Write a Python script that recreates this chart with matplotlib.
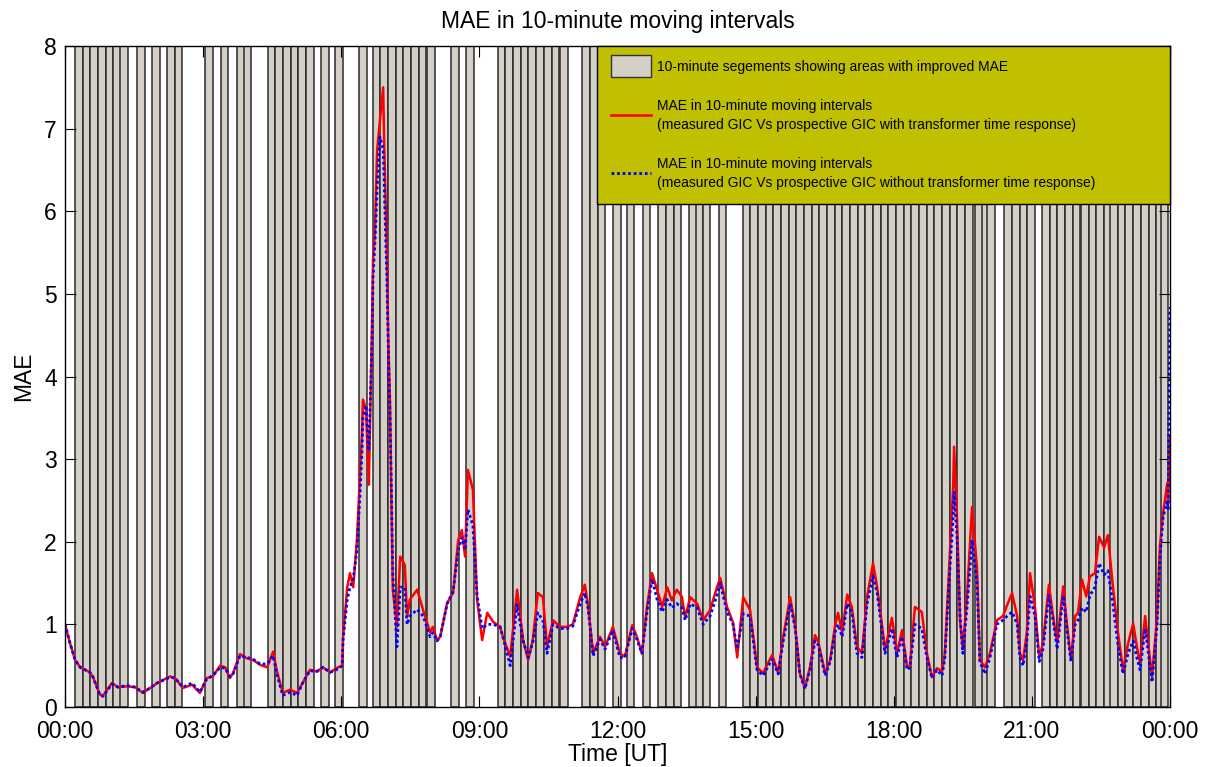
import matplotlib
matplotlib.use("Agg")
import matplotlib.pyplot as plt
from matplotlib.patches import Patch, Rectangle
from matplotlib.lines import Line2D
from matplotlib.legend_handler import HandlerPatch
import numpy as np

plt.rcParams['font.family'] = ['Liberation Sans', 'DejaVu Sans']

# Start minute of each 10-minute segment with improved MAE
segment_start_min = [
    13, 23, 33, 43, 53, 63, 72, 94, 114, 133, 143, 183, 203, 224, 233,
    264, 274, 284, 294, 304, 314, 334, 352, 383,
    401, 411, 421, 431, 441, 451, 461, 472, 503, 523,
    564, 574, 584, 594, 604, 614, 624, 634, 645, 674, 684, 694,
    714, 732, 753, 773, 783, 793, 813, 822, 831, 852,
    883, 893, 903, 913, 923, 933, 943, 953, 963, 973, 983, 993, 1003, 1013,
    1023, 1033, 1043, 1053, 1063, 1073, 1083, 1093, 1103, 1113, 1123, 1133,
    1143, 1153, 1163, 1173, 1186, 1195, 1202,
    1224, 1234, 1244, 1254,
    1273, 1283, 1293, 1303, 1313, 1324, 1334, 1344, 1354, 1362, 1372, 1382,
    1392, 1402, 1412, 1422, 1428,
]
segment_len_min = 10

# Time axis of the MAE curves (hours UT)
time_h = [
    0.00, 0.11, 0.22, 0.33, 0.54, 0.61, 0.76, 0.83, 1.02, 1.15, 1.35, 1.52, 1.69, 1.85,
    2.00, 2.28, 2.39, 2.56, 2.76, 2.93, 3.08, 3.21, 3.37, 3.48, 3.58, 3.65, 3.80, 3.95,
    4.08, 4.24, 4.39, 4.52, 4.60, 4.73, 4.89, 5.04, 5.17, 5.32, 5.47, 5.60, 5.76, 5.93,
    6.02, 6.04, 6.13, 6.19, 6.26, 6.34, 6.41, 6.45, 6.47, 6.54, 6.58, 6.60, 6.67, 6.69,
    6.73, 6.78, 6.84, 6.91, 6.93, 6.95, 6.99, 7.02, 7.06, 7.08, 7.12, 7.21, 7.28, 7.38,
    7.43, 7.49, 7.65, 7.78, 7.93, 7.99, 8.08, 8.15, 8.30, 8.43, 8.54, 8.62, 8.69, 8.75,
    8.86, 8.95, 9.06, 9.17, 9.30, 9.45, 9.51, 9.67, 9.82, 9.95, 10.06, 10.16, 10.27,
    10.38, 10.47, 10.60, 10.75, 10.90, 11.03, 11.19, 11.29, 11.36, 11.47, 11.62, 11.73,
    11.90, 12.05, 12.16, 12.32, 12.42, 12.53, 12.64, 12.75, 12.86, 12.97, 13.08, 13.18,
    13.29, 13.40, 13.47, 13.58, 13.73, 13.86, 14.01, 14.16, 14.23, 14.38, 14.51, 14.60,
    14.73, 14.88, 15.03, 15.16, 15.36, 15.49, 15.60, 15.75, 15.86, 15.96, 16.07, 16.18,
    16.29, 16.36, 16.51, 16.62, 16.72, 16.79, 16.88, 16.99, 17.09, 17.20, 17.31, 17.42,
    17.55, 17.64, 17.75, 17.81, 17.96, 18.07, 18.18, 18.29, 18.35, 18.46, 18.61, 18.72,
    18.83, 18.94, 19.05, 19.11, 19.20, 19.29, 19.31, 19.37, 19.44, 19.50, 19.59, 19.70,
    19.81, 19.87, 19.98, 20.09, 20.24, 20.37, 20.46, 20.57, 20.68, 20.74, 20.81, 20.89,
    20.96, 21.07, 21.16, 21.24, 21.37, 21.46, 21.55, 21.68, 21.76, 21.85, 21.94, 22.00,
    22.09, 22.18, 22.26, 22.37, 22.46, 22.57, 22.65, 22.76, 22.87, 22.98, 23.09, 23.20,
    23.28, 23.35, 23.46, 23.52, 23.61, 23.72, 23.78, 23.85, 23.94, 23.96, 24.00,
]

# MAE: measured GIC vs prospective GIC with transformer time response
mae_with_tr = [
    1.00, 0.77, 0.57, 0.48, 0.42, 0.36, 0.15, 0.14, 0.29, 0.24, 0.25, 0.24, 0.17, 0.23,
    0.29, 0.37, 0.35, 0.23, 0.27, 0.17, 0.35, 0.37, 0.50, 0.48, 0.35, 0.41, 0.64, 0.59,
    0.57, 0.51, 0.48, 0.67, 0.44, 0.17, 0.21, 0.17, 0.30, 0.45, 0.43, 0.48, 0.42, 0.48,
    0.50, 0.85, 1.45, 1.62, 1.45, 2.02, 2.83, 3.30, 3.72, 3.60, 3.00, 2.69, 4.69, 5.41,
    5.74, 6.74, 7.10, 7.50, 6.90, 6.40, 5.53, 4.48, 3.68, 2.83, 1.42, 0.97, 1.82, 1.72,
    1.09, 1.30, 1.42, 1.17, 0.90, 0.97, 0.81, 0.85, 1.26, 1.38, 2.02, 2.14, 1.82, 2.87,
    2.63, 1.30, 0.81, 1.14, 1.03, 0.97, 0.85, 0.61, 1.42, 0.81, 0.57, 0.81, 1.38,
    1.33, 0.73, 1.05, 0.97, 0.97, 1.00, 1.33, 1.48, 1.23, 0.65, 0.85, 0.73,
    0.97, 0.65, 0.61, 0.99, 0.85, 0.65, 1.21, 1.62, 1.42, 1.21, 1.45, 1.29,
    1.42, 1.33, 1.08, 1.33, 1.25, 1.05, 1.17, 1.45, 1.56, 1.21, 1.02, 0.60,
    1.33, 1.17, 0.48, 0.41, 0.63, 0.41, 0.85, 1.33, 0.97, 0.41, 0.23, 0.48,
    0.87, 0.79, 0.41, 0.57, 0.97, 1.14, 0.90, 1.36, 1.21, 0.73, 0.65, 1.33,
    1.74, 1.45, 0.97, 0.69, 1.08, 0.65, 0.93, 0.48, 0.50, 1.21, 1.15, 0.65,
    0.36, 0.47, 0.43, 0.65, 1.66, 2.66, 3.15, 2.35, 1.05, 0.70, 1.33, 2.42,
    1.66, 0.57, 0.48, 0.65, 1.05, 1.10, 1.23, 1.38, 1.10, 0.65, 0.57, 0.90,
    1.62, 1.20, 0.60, 0.77, 1.48, 1.10, 0.77, 1.46, 1.01, 0.57, 1.10, 1.14,
    1.54, 1.34, 1.58, 1.62, 2.06, 1.93, 2.08, 1.46, 0.90, 0.45, 0.77, 1.01,
    0.73, 0.53, 1.10, 0.80, 0.36, 1.10, 1.94, 2.35, 2.71, 2.48, 3.27,
]

# MAE: measured GIC vs prospective GIC without transformer time response
mae_without_tr = [
    1.00, 0.77, 0.57, 0.48, 0.42, 0.36, 0.14, 0.13, 0.28, 0.24, 0.26, 0.24, 0.18, 0.23,
    0.29, 0.36, 0.35, 0.24, 0.29, 0.18, 0.34, 0.38, 0.48, 0.47, 0.37, 0.40, 0.62, 0.60,
    0.58, 0.52, 0.52, 0.62, 0.40, 0.14, 0.18, 0.14, 0.30, 0.44, 0.43, 0.48, 0.42, 0.46,
    0.50, 0.82, 1.30, 1.45, 1.55, 1.90, 2.60, 3.10, 3.50, 3.65, 3.20, 3.10, 4.50, 5.20,
    5.60, 6.30, 6.90, 6.75, 6.40, 6.00, 5.20, 4.40, 3.50, 2.90, 1.60, 0.73, 1.45, 1.45,
    1.00, 1.10, 1.18, 1.10, 0.85, 0.90, 0.80, 0.85, 1.25, 1.40, 1.90, 2.05, 1.90, 2.39,
    2.20, 1.35, 0.95, 1.00, 1.00, 0.97, 0.85, 0.50, 1.24, 0.80, 0.60, 0.78, 1.14,
    1.05, 0.65, 1.00, 0.95, 0.95, 0.98, 1.25, 1.38, 1.20, 0.62, 0.82, 0.70,
    0.93, 0.60, 0.60, 0.95, 0.82, 0.65, 1.15, 1.55, 1.30, 1.15, 1.30, 1.20,
    1.25, 1.20, 1.05, 1.25, 1.20, 1.00, 1.10, 1.35, 1.50, 1.15, 1.00, 0.70,
    1.13, 1.10, 0.45, 0.38, 0.58, 0.40, 0.80, 1.25, 0.95, 0.40, 0.22, 0.45,
    0.80, 0.75, 0.38, 0.55, 0.90, 1.00, 0.85, 1.25, 1.15, 0.65, 0.60, 1.25,
    1.58, 1.38, 0.90, 0.65, 0.95, 0.60, 0.85, 0.45, 0.48, 1.00, 0.95, 0.60,
    0.35, 0.45, 0.38, 0.60, 1.50, 2.30, 2.60, 2.10, 1.10, 0.65, 1.20, 2.02,
    1.50, 0.55, 0.40, 0.60, 1.00, 1.05, 1.10, 1.15, 1.00, 0.60, 0.50, 0.80,
    1.34, 1.10, 0.55, 0.70, 1.35, 1.05, 0.70, 1.35, 0.95, 0.55, 1.00, 1.05,
    1.20, 1.15, 1.35, 1.45, 1.74, 1.60, 1.65, 1.25, 0.75, 0.40, 0.65, 0.80,
    0.60, 0.45, 0.95, 0.70, 0.30, 1.00, 1.80, 2.30, 2.50, 2.40, 4.84,
]

xtick_hours = [0, 3, 6, 9, 12, 15, 18, 21, 24]
xtick_labels = ['00:00', '03:00', '06:00', '09:00', '12:00', '15:00', '18:00', '21:00', '00:00']

FS = 16.5
BAR_FACE = '#d4d0c8'

fig = plt.figure(figsize=(12.08, 7.67), dpi=100)
ax = fig.add_axes([65 / 1208, 1 - 707 / 767, (1170 - 65) / 1208, (707 - 46) / 767])

seg_x = np.array(segment_start_min) / 60.0
ax.bar(seg_x, 8, width=segment_len_min / 60.0, bottom=0, align='edge',
       color=BAR_FACE, edgecolor='#2a2a2a', linewidth=1.1, zorder=1)

ax.plot(time_h, mae_with_tr, color='#ff0000', lw=1.8, zorder=3)
ax.plot(time_h, mae_without_tr, color='#0000ff', lw=2.0, linestyle=(0, (1, 1)), zorder=4)

ax.set_xlim(0, 24)
ax.set_ylim(0, 8)
ax.set_xticks(xtick_hours)
ax.set_xticklabels(xtick_labels)
ax.set_yticks(range(0, 9))
ax.tick_params(direction='in', length=8, width=0.8, top=True, right=True,
               labelsize=FS)
ax.tick_params(axis='x', pad=9)
ax.tick_params(axis='y', pad=6)
for s in ax.spines.values():
    s.set_linewidth(1.0)
    s.set_zorder(5)

ax.set_title('MAE in 10-minute moving intervals', fontsize=FS, pad=13)
ax.set_xlabel('Time [UT]', fontsize=FS, labelpad=0)
ax.set_ylabel('MAE', fontsize=FS, labelpad=6)


def tall_box(legend, orig_handle, xdescent, ydescent, width, height, fontsize):
    extra = 0.35 * fontsize
    return Rectangle((-xdescent, -ydescent - extra), width, height + 2 * extra)


handles = [
    Patch(facecolor=BAR_FACE, edgecolor='#333333', linewidth=1.0),
    Line2D([], [], color='#ff0000', lw=1.8),
    Line2D([], [], color='#0000ff', lw=2.0, linestyle=(0, (1, 1))),
]
labels = [
    '10-minute segements showing areas with improved MAE',
    'MAE in 10-minute moving intervals\n(measured GIC Vs prospective GIC with transformer time response)',
    'MAE in 10-minute moving intervals\n(measured GIC Vs prospective GIC without transformer time response)',
]
x0 = (597 - 65) / (1170 - 65)
leg = ax.legend(handles, labels, loc='upper left', bbox_to_anchor=(x0, 1.0, 1 - x0, 0.0),
                mode='expand', borderaxespad=0, fontsize=10, frameon=True, fancybox=False,
                facecolor='#c0c000', edgecolor='black', framealpha=1.0,
                handlelength=2.9, handleheight=1.0, labelspacing=1.8, borderpad=1.0,
                handletextpad=0.4,
                handler_map={Patch: HandlerPatch(patch_func=tall_box)})
leg.get_frame().set_linewidth(1.0)
for t in leg.get_texts():
    t.set_linespacing(1.45)
leg.set_zorder(10)

fig.savefig('out.png', dpi=100)
